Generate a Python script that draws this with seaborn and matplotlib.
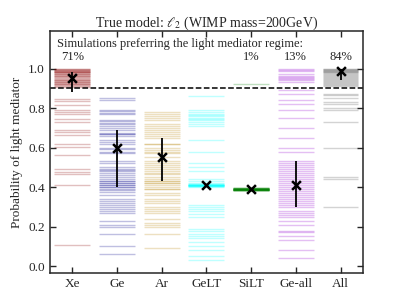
import matplotlib
matplotlib.use("Agg")
import matplotlib.pyplot as plt
import seaborn as sns
import pandas as pd
import numpy as np

categories = ["Xe", "Ge", "Ar", "GeLT", "SiLT", "Ge-all", "All"]
colors = ["#8b0000", "#00008b", "#b8860b", "#00ffff", "#008000", "#9400d3", "#505050"]

xe_vals = [1.0, 0.995, 0.99, 0.985, 0.98, 0.975, 0.97, 0.965, 0.96, 0.955, 0.95, 0.945, 0.94,
           0.935, 0.93, 0.925, 0.92, 0.915, 0.91, 0.905, 0.99, 0.98, 0.96, 0.94, 0.93, 0.92,
           1.0, 0.995, 0.97,
           0.847, 0.838, 0.813, 0.788, 0.78, 0.771, 0.746, 0.729, 0.687, 0.678, 0.662, 0.62,
           0.603, 0.56, 0.493, 0.476, 0.468, 0.409, 0.106]
ge_vals = [0.85, 0.84, 0.79, 0.785, 0.775, 0.77, 0.74, 0.735, 0.725, 0.72, 0.71, 0.70, 0.69,
           0.675, 0.67, 0.668, 0.66, 0.64, 0.63, 0.62, 0.60, 0.595, 0.58, 0.57, 0.53, 0.52,
           0.50, 0.49, 0.485, 0.48, 0.44, 0.43, 0.42, 0.41, 0.40, 0.39, 0.47, 0.46, 0.45,
           0.43, 0.42, 0.41, 0.40, 0.385, 0.375, 0.36, 0.34, 0.33, 0.32, 0.31, 0.30, 0.29,
           0.28, 0.27, 0.23, 0.21, 0.20, 0.16, 0.10, 0.06]
ar_vals = [0.78, 0.77, 0.76, 0.75, 0.74, 0.72, 0.71, 0.70, 0.69, 0.68, 0.67, 0.66, 0.65,
           0.62, 0.618, 0.60, 0.59, 0.58, 0.57, 0.55, 0.53, 0.52, 0.51, 0.50, 0.49, 0.48,
           0.47, 0.44, 0.43, 0.42, 0.40, 0.39, 0.465, 0.45, 0.43, 0.42, 0.41, 0.39, 0.37,
           0.36, 0.34, 0.33, 0.32, 0.30, 0.29, 0.28, 0.27, 0.24, 0.22, 0.21, 0.20, 0.16, 0.09]
gelt_vals = [0.86, 0.79, 0.78, 0.77, 0.765, 0.76, 0.75, 0.745, 0.74, 0.73, 0.72, 0.71, 0.64,
             0.58, 0.52, 0.50, 0.48, 0.44, 0.43, 0.42, 0.415, 0.412, 0.41, 0.41, 0.41,
             0.408, 0.405, 0.405, 0.403, 0.40, 0.414, 0.41, 0.407,
             0.31, 0.30, 0.29, 0.28, 0.265, 0.25, 0.19, 0.18, 0.16, 0.15, 0.14, 0.12,
             0.10, 0.08, 0.05, 0.03]
silt_vals = [0.92, 0.396, 0.394, 0.392, 0.39, 0.39, 0.389, 0.388, 0.387, 0.386, 0.385,
             0.384, 0.383, 0.391, 0.389, 0.388, 0.387, 0.386, 0.385, 0.393, 0.395]
geall_vals = [1.0, 0.995, 0.99, 0.97, 0.96, 0.955, 0.95, 0.945, 0.94, 0.93, 0.89, 0.87, 0.84,
              0.82, 0.79, 0.75, 0.70, 0.65, 0.60, 0.58, 0.53, 0.52, 0.51, 0.50, 0.49, 0.48,
              0.47, 0.46, 0.45, 0.44, 0.43, 0.42, 0.41, 0.40, 0.39, 0.38, 0.37, 0.36, 0.35,
              0.34, 0.33, 0.32, 0.31, 0.30, 0.28, 0.27, 0.26, 0.25, 0.23, 0.21, 0.18,
              0.17, 0.15, 0.13, 0.08, 0.04]
all_vals = [1.0, 1.0, 0.995, 0.99, 0.985, 0.98, 0.975, 0.97, 0.965, 0.96, 0.955, 0.95, 0.945,
            0.94, 0.935, 0.93, 0.925, 0.92, 0.915, 0.91, 0.995, 0.99, 0.87, 0.865, 0.85,
            0.83, 0.82, 0.80, 0.79, 0.73, 0.60, 0.45, 0.44, 0.30]
all_lines = [xe_vals, ge_vals, ar_vals, gelt_vals, silt_vals, geall_vals, all_vals]

means = [0.95, 0.60, 0.55, 0.41, 0.39, 0.41, 0.99]
err_lo = [0.88, 0.40, 0.43, 0.405, 0.385, 0.30, 0.94]
err_hi = [0.985, 0.69, 0.65, 0.415, 0.395, 0.53, 1.0]
pct_cats = ["Xe", "SiLT", "Ge-all", "All"]
pct_labels = ["71%", "1%", "13%", "84%"]

sns.set_style("ticks")
plt.rcParams["font.family"] = ["Liberation Serif", "DejaVu Serif"]
plt.rcParams["mathtext.fontset"] = "stix"

fig = plt.figure(figsize=(4.05, 3.04), dpi=100)
ax = fig.add_axes([0.123, 0.102, 0.773, 0.796])

for i, vals in enumerate(all_lines):
    ax.hlines(vals, i - 0.4, i + 0.4, color=colors[i], alpha=0.25, lw=1.0)

ax.axhline(0.9, color="black", ls="--", lw=1.1)

df = pd.DataFrame({"cat": categories, "x": np.arange(len(categories)), "mean": means})
ax.vlines(df["x"], err_lo, err_hi, color="black", lw=1.3, zorder=5)
sns.scatterplot(data=df, x="x", y="mean", marker="x", color="black", s=40,
                linewidth=1.8, ax=ax, zorder=6, legend=False)

ax.text(-0.33, 1.125, "Simulations preferring the light mediator regime:", fontsize=9,
        ha="left", va="center")
for c, t in zip(pct_cats, pct_labels):
    ax.text(categories.index(c), 1.06, t, fontsize=9, ha="center", va="center")

ax.set_xlim(-0.5, 6.5)
ax.set_ylim(-0.035, 1.19)
ax.set_xticks(range(len(categories)))
ax.set_xticklabels(categories, fontsize=9.5)
ax.set_yticks([0.0, 0.2, 0.4, 0.6, 0.8, 1.0])
ax.set_yticklabels(["0.0", "0.2", "0.4", "0.6", "0.8", "1.0"], fontsize=9.5)
ax.tick_params(direction="in", top=True, right=True, length=4, width=1)
ax.set_xlabel("")
ax.set_ylabel("Probability of light mediator", fontsize=9.5)
ax.set_title(r"True model: $\ell_2$ (WIMP mass=200GeV)", fontsize=10, pad=3)
for s in ax.spines.values():
    s.set_linewidth(1.1)

fig.savefig("out.png", dpi=100)
